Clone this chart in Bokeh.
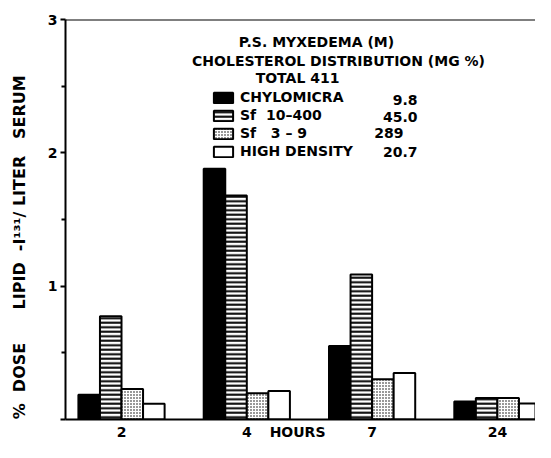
from bokeh.plotting import figure
from bokeh.models import (Range1d, FixedTicker, Span, Label, Legend, LegendItem)
from bokeh.embed import file_html
from bokeh.resources import INLINE

# ---- data ----
hours = ["2", "4", "7", "24"]
series_names = ["CHYLOMICRA", "Sf\u00a0\u00a010\u2013400", "Sf\u00a0\u00a0\u00a03\u00a0\u2013\u00a09", "HIGH DENSITY"]
series_values_text = ["9.8", "45.0", "289", "20.7"]
chylomicra = [0.186, 1.88, 0.551, 0.135]
sf_10_400 = [0.775, 1.68, 1.088, 0.161]
sf_3_9 = [0.229, 0.197, 0.301, 0.161]
high_density = [0.118, 0.214, 0.349, 0.12]
title_lines = ["P.S. MYXEDEMA (M)", "CHOLESTEROL DISTRIBUTION (MG %)", "TOTAL 411"]
x_title = "HOURS"
y_ticks = [0, 1, 2, 3]
y_minor = [0.5, 1.5, 2.5]
nb = "\u00a0"
y_title = ("%" + nb * 2 + "DOSE" + nb * 6 + "LIPID" + nb * 2 + "-I\u00b9\u00b3\u00b9/" + nb +
           "LITER" + nb * 3 + "SERUM" + nb * 10)

FONT = "DejaVu Sans"
INK = "black"

p = figure(width=535, height=442, output_backend="svg", toolbar_location=None,
           x_range=Range1d(-0.447, 3.304), y_range=Range1d(0, 3),
           min_border_left=65, min_border_right=0, min_border_top=19,
           min_border_bottom=21)
p.outline_line_color = None
p.grid.grid_line_color = None
p.background_fill_color = "white"
p.border_fill_color = "white"

bw = 0.172
idx = list(range(len(hours)))
series = [chylomicra, sf_10_400, sf_3_9, high_density]
styles = [
    dict(fill_color=INK),
    dict(fill_color="white", hatch_pattern="horizontal_line", hatch_scale=4.5,
         hatch_weight=2, hatch_color=INK),
    dict(fill_color="white", hatch_pattern="dot", hatch_scale=3.0,
         hatch_weight=2.0, hatch_color=INK),
    dict(fill_color="white"),
]
renderers = []
for k, (vals, st) in enumerate(zip(series, styles)):
    xs = [i + (k - 1.5) * bw for i in idx]
    r = p.vbar(x=xs, top=vals, bottom=0, width=bw, line_color=INK,
               line_width=2, **st)
    renderers.append(r)

# axes
for ax in (p.xaxis[0], p.yaxis[0]):
    ax.axis_line_width = 2
    ax.axis_line_color = INK
    ax.major_label_text_font = FONT
    ax.major_label_text_font_style = "bold"
    ax.major_label_text_font_size = "14px"
    ax.major_label_text_color = INK

hours_label_x = 1.405
p.xaxis.ticker = FixedTicker(ticks=idx + [hours_label_x])
overrides = {i: h for i, h in zip(idx, hours)}
overrides[hours_label_x] = x_title
p.xaxis.major_label_overrides = overrides
p.xaxis.major_tick_line_color = None
p.xaxis.major_tick_out = 0
p.xaxis.major_tick_in = 0
p.xaxis.minor_tick_line_color = None
p.xaxis.major_label_standoff = 4
p.xaxis.axis_label_standoff = 0

p.yaxis.ticker = FixedTicker(ticks=y_ticks, minor_ticks=y_minor)
p.yaxis.major_label_overrides = {0: ""}
p.yaxis.major_tick_out = 5
p.yaxis.major_tick_in = 0
p.yaxis.minor_tick_out = 4
p.yaxis.minor_tick_in = 0
p.yaxis.major_tick_line_color = INK
p.yaxis.minor_tick_line_color = INK
p.yaxis.major_tick_line_width = 2
p.yaxis.minor_tick_line_width = 2
p.yaxis.major_label_standoff = 3
p.yaxis.axis_label = y_title
p.yaxis.axis_label_text_font = FONT
p.yaxis.axis_label_text_font_style = "bold"
p.yaxis.axis_label_text_font_size = "16px"
p.yaxis.axis_label_text_color = INK
p.yaxis.axis_label_standoff = 16

p.add_layout(Span(location=3, dimension="width", line_color=INK, line_width=2))

# title block (data units)
title_x = [1.556, 1.732, 1.405]
title_y = [2.834, 2.690, 2.560]
for tx, ty, t in zip(title_x, title_y, title_lines):
    p.add_layout(Label(x=tx, y=ty, text=t, text_font=FONT, text_font_style="bold",
                       text_font_size="14px", text_align="center",
                       text_baseline="middle", text_color=INK))

legend = Legend(items=[LegendItem(label=n, renderers=[r]) for n, r in zip(series_names, renderers)],
                location=(146, 259), glyph_width=24, glyph_height=13,
                label_height=18, label_width=10, spacing=0, padding=0, margin=0,
                label_standoff=5, border_line_color=None,
                background_fill_alpha=0, label_text_font=FONT,
                label_text_font_style="bold", label_text_font_size="14px",
                label_text_baseline="middle", label_text_color=INK)
p.add_layout(legend, "center")

value_right = [2.362, 2.362, 2.25, 2.362]
value_y = [2.400, 2.270, 2.147, 2.003]
for v, vx, vy in zip(series_values_text, value_right, value_y):
    p.add_layout(Label(x=vx, y=vy, text=v, text_font=FONT, text_font_style="bold",
                       text_font_size="14px", text_align="right",
                       text_baseline="middle", text_color=INK))

open("out.html", "w").write(file_html(p, INLINE))
